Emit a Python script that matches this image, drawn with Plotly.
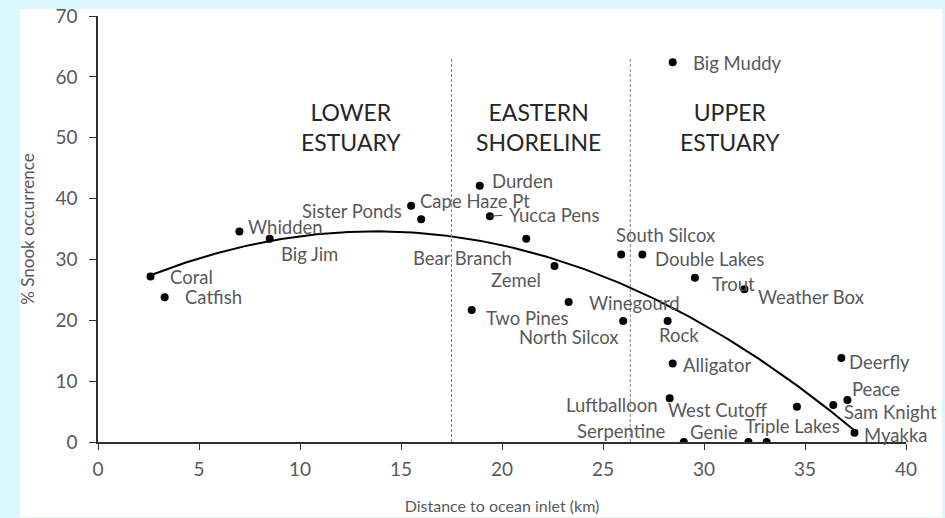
import numpy as np
import plotly.graph_objects as go

# ---- data ----
sites = ["Coral", "Catfish", "Whidden", "Big Jim", "Sister Ponds", "Cape Haze Pt",
         "Durden", "Yucca Pens", "Bear Branch", "Zemel", "Two Pines", "Winegourd",
         "North Silcox", "South Silcox", "Double Lakes", "Trout", "Weather Box",
         "Rock", "Big Muddy", "Alligator", "Luftballoon", "West Cutoff", "Deerfly",
         "Peace", "Sam Knight", "Myakka", "Serpentine", "Genie", "Triple Lakes"]
distance_km = [2.6, 3.3, 7.0, 8.5, 16.0, 15.5,
               18.9, 19.4, 21.2, 22.6, 18.5, 23.3,
               26.0, 25.9, 26.95, 29.55, 32.0,
               28.2, 28.45, 28.45, 28.3, 34.6, 36.8,
               37.1, 36.4, 37.45, 29.0, 32.2, 33.1]
snook_pct = [27.2, 23.8, 34.6, 33.4, 36.6, 38.8,
             42.1, 37.1, 33.4, 28.9, 21.7, 23.0,
             19.9, 30.8, 30.8, 27.0, 25.1,
             19.9, 62.4, 12.9, 7.2, 5.8, 13.8,
             6.9, 6.1, 1.5, 0.0, 0.0, 0.0]

region_names = ["LOWER<br>ESTUARY", "EASTERN<br>SHORELINE", "UPPER<br>ESTUARY"]
region_centers_km = [12.5, 21.8, 31.3]
region_label_y = 51.8
region_bounds_km = [17.5, 26.35]
region_bound_top = 63

x_ticks = [0, 5, 10, 15, 20, 25, 30, 35, 40]
y_ticks = [0, 10, 20, 30, 40, 50, 60, 70]

# label placement (anchor, dx px, dy px downward)
label_pos = {
    "Coral": ("left", 17, 1), "Catfish": ("left", 18, 0), "Whidden": ("left", 7, -4),
    "Big Jim": ("left", 9, 15), "Sister Ponds": ("right", -17, -8),
    "Cape Haze Pt": ("left", 7, -5), "Durden": ("left", 10, -5),
    "Yucca Pens": ("left", 17, -1), "Bear Branch": ("right", -12, 19),
    "Zemel": ("right", -12, 14), "Two Pines": ("left", 12, 8),
    "Winegourd": ("left", 18, 1), "North Silcox": ("right", -3, 16),
    "South Silcox": ("left", -7, -20), "Double Lakes": ("left", 11, 4),
    "Trout": ("left", 15, 6), "Weather Box": ("left", 12, 8),
    "Rock": ("left", -11, 14), "Big Muddy": ("left", 18, 1),
    "Alligator": ("left", 8, 2), "Luftballoon": ("right", -10, 7),
    "West Cutoff": ("right", -27, 3), "Deerfly": ("left", 6, 4),
    "Peace": ("left", 3, -11), "Sam Knight": ("left", 9, 7),
    "Myakka": ("left", 8, 2), "Serpentine": ("right", -16, -11),
    "Genie": ("right", -8, -10), "Triple Lakes": ("left", -24, -16),
}

FONT = "Lato, 'Open Sans', sans-serif"
GRAY = "#595959"

fig = go.Figure()

# quadratic trendline fitted to the data
coef = np.polyfit(distance_km, snook_pct, 2)
xs = np.linspace(min(distance_km), max(distance_km), 200)
fig.add_trace(go.Scatter(x=xs, y=np.polyval(coef, xs), mode="lines",
                         line=dict(color="black", width=2), hoverinfo="skip",
                         showlegend=False))

fig.add_trace(go.Scatter(x=distance_km, y=snook_pct, mode="markers",
                         marker=dict(color="black", size=8), text=sites,
                         showlegend=False))

for b in region_bounds_km:
    fig.add_shape(type="line", x0=b, x1=b, y0=0, y1=region_bound_top, xref="x", yref="y",
                  line=dict(color="#7f7f7f", width=1, dash="3px,2px"))

for name, cx in zip(region_names, region_centers_km):
    fig.add_annotation(x=cx, y=region_label_y, text=name, showarrow=False,
                       font=dict(family=FONT, size=23, color="#262626"),
                       xanchor="center", yanchor="middle")

for name, x, y in zip(sites, distance_km, snook_pct):
    anc, dx, dy = label_pos[name]
    fig.add_annotation(x=x, y=y, text=name, showarrow=False, xanchor=anc,
                       yanchor="middle", xshift=dx, yshift=-dy,
                       font=dict(family=FONT, size=18.5, color=GRAY))

# short leader line for Yucca Pens label
i_yp = sites.index("Yucca Pens")
fig.add_annotation(x=distance_km[i_yp], y=snook_pct[i_yp], text="", showarrow=True,
                   arrowhead=0, arrowwidth=1, arrowcolor="#404040", ax=14, ay=-1,
                   standoff=0)

# white card on cyan page
fig.add_shape(type="rect", xref="paper", yref="paper", x0=-0.0965, x1=1.0446,
              y0=-0.176, y1=1.0164, fillcolor="white", line=dict(width=0), layer="below")

fig.update_layout(
    width=945, height=518,
    margin=dict(l=98, r=39, t=16, b=76, autoexpand=False),
    paper_bgcolor="#d9f7fc", plot_bgcolor="white",
    font=dict(family=FONT, size=16, color=GRAY),
    xaxis=dict(range=[0, 40], tickvals=x_ticks, showgrid=False, zeroline=False,
               automargin=False,
               showline=True, linecolor="#303030", linewidth=1.5,
               ticks="outside", ticklen=6, tickcolor="#303030",
               ticklabelstandoff=3,
               tickfont=dict(family=FONT, size=19, color=GRAY),
               title=dict(text="Distance to ocean inlet (km)", standoff=22,
                          font=dict(family=FONT, size=16, color=GRAY))),
    yaxis=dict(range=[0, 70], tickvals=y_ticks, showgrid=False, zeroline=False,
               automargin=False,
               showline=True, linecolor="#303030", linewidth=1.5,
               ticks="outside", ticklen=7, tickcolor="#303030",
               ticklabelstandoff=8,
               tickfont=dict(family=FONT, size=19, color=GRAY),
               title=dict(text="% Snook occurrence", standoff=16,
                          font=dict(family=FONT, size=17, color=GRAY))),
)

fig.write_html("out.html")
